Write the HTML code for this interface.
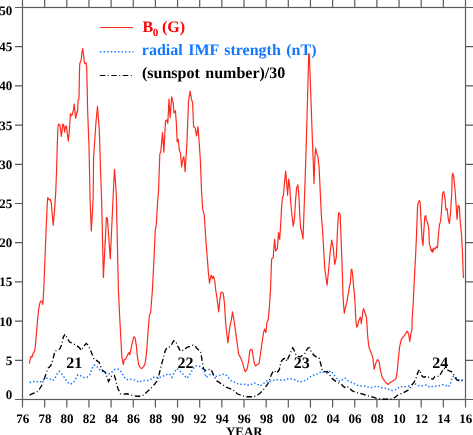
<!DOCTYPE html>
<html><head><meta charset="utf-8"><style>
html,body{margin:0;padding:0;background:#fff;width:473px;height:435px;overflow:hidden}
svg{display:block}
text{font-family:"Liberation Serif","Times New Roman",serif;font-weight:bold;text-rendering:geometricPrecision}
</style></head><body>
<svg width="473" height="435" viewBox="0 0 473 435">
<g stroke="#5a5a5a" stroke-width="1.2">
<rect x="22.5" y="7.5" width="443.0" height="392.0" fill="none"/>
<path d="M22.5 399.5V407.4M22.5 7.5V0M44.65 399.5V407.4M44.65 7.5V0M66.8 399.5V407.4M66.8 7.5V0M88.95 399.5V407.4M88.95 7.5V0M111.1 399.5V407.4M111.1 7.5V0M133.25 399.5V407.4M133.25 7.5V0M155.4 399.5V407.4M155.4 7.5V0M177.55 399.5V407.4M177.55 7.5V0M199.7 399.5V407.4M199.7 7.5V0M221.85 399.5V407.4M221.85 7.5V0M244.0 399.5V407.4M244.0 7.5V0M266.15 399.5V407.4M266.15 7.5V0M288.3 399.5V407.4M288.3 7.5V0M310.45 399.5V407.4M310.45 7.5V0M332.6 399.5V407.4M332.6 7.5V0M354.75 399.5V407.4M354.75 7.5V0M376.9 399.5V407.4M376.9 7.5V0M399.05 399.5V407.4M399.05 7.5V0M421.2 399.5V407.4M421.2 7.5V0M443.35 399.5V407.4M443.35 7.5V0M465.5 399.5V407.4M465.5 7.5V0M22.5 399.5H15M465.5 399.5H473M22.5 360.3H15M465.5 360.3H473M22.5 321.1H15M465.5 321.1H473M22.5 281.9H15M465.5 281.9H473M22.5 242.7H15M465.5 242.7H473M22.5 203.5H15M465.5 203.5H473M22.5 164.3H15M465.5 164.3H473M22.5 125.1H15M465.5 125.1H473M22.5 85.9H15M465.5 85.9H473M22.5 46.7H15M465.5 46.7H473M22.5 7.5H15M465.5 7.5H473" fill="none"/>
</g>
<g font-size="13" fill="#000">
<text x="22.80" y="422.9" text-anchor="middle">76</text>
<text x="44.95" y="422.9" text-anchor="middle">78</text>
<text x="67.10" y="422.9" text-anchor="middle">80</text>
<text x="89.25" y="422.9" text-anchor="middle">82</text>
<text x="111.40" y="422.9" text-anchor="middle">84</text>
<text x="133.55" y="422.9" text-anchor="middle">86</text>
<text x="155.70" y="422.9" text-anchor="middle">88</text>
<text x="177.85" y="422.9" text-anchor="middle">90</text>
<text x="200.00" y="422.9" text-anchor="middle">92</text>
<text x="222.15" y="422.9" text-anchor="middle">94</text>
<text x="244.30" y="422.9" text-anchor="middle">96</text>
<text x="266.45" y="422.9" text-anchor="middle">98</text>
<text x="288.60" y="422.9" text-anchor="middle">00</text>
<text x="310.75" y="422.9" text-anchor="middle">02</text>
<text x="332.90" y="422.9" text-anchor="middle">04</text>
<text x="355.05" y="422.9" text-anchor="middle">06</text>
<text x="377.20" y="422.9" text-anchor="middle">08</text>
<text x="399.35" y="422.9" text-anchor="middle">10</text>
<text x="421.50" y="422.9" text-anchor="middle">12</text>
<text x="443.65" y="422.9" text-anchor="middle">14</text>
<text x="465.80" y="422.9" text-anchor="middle">16</text>
<text x="12.2" y="399.30" text-anchor="end">0</text>
<text x="12.2" y="364.70" text-anchor="end">5</text>
<text x="12.2" y="325.50" text-anchor="end">10</text>
<text x="12.2" y="286.30" text-anchor="end">15</text>
<text x="12.2" y="247.10" text-anchor="end">20</text>
<text x="12.2" y="207.90" text-anchor="end">25</text>
<text x="12.2" y="168.70" text-anchor="end">30</text>
<text x="12.2" y="129.50" text-anchor="end">35</text>
<text x="12.2" y="90.30" text-anchor="end">40</text>
<text x="12.2" y="51.10" text-anchor="end">45</text>
<text x="12.2" y="15.10" text-anchor="end">50</text>
<text x="244.3" y="435.8" text-anchor="middle">YEAR</text>
</g>
<polyline points="29.6,382.4 33.0,381.6 36.4,381.6 39.8,382.4 42.3,380.7 44.8,379.0 47.4,378.2 49.9,379.0 52.4,380.7 55.0,378.2 57.5,373.1 59.2,371.4 61.7,374.0 64.3,377.4 66.8,381.6 70.2,384.1 72.7,383.3 75.3,379.9 77.8,374.8 80.4,375.7 83.7,377.4 87.1,377.4 89.7,374.8 92.2,368.1 93.9,365.2 96.4,365.5 98.1,368.1 100.6,370.6 102.5,371.3 105.1,373.0 107.6,373.8 110.1,373.8 112.7,371.3 115.2,369.1 117.8,369.1 120.3,370.4 122.0,373.0 123.7,376.4 125.4,378.9 127.9,379.7 130.4,379.2 133.8,379.7 136.4,380.6 138.9,382.3 142.3,380.6 145.7,380.6 149.0,380.6 152.4,378.1 155.0,376.4 158.4,378.1 161.7,376.4 165.1,375.5 167.7,373.8 170.2,374.7 171.8,377.4 174.4,372.3 176.9,368.6 179.5,370.6 182.0,373.1 184.5,375.7 187.1,378.2 189.6,374.8 192.1,370.6 194.7,366.4 197.2,365.5 199.7,366.4 202.3,368.6 204.3,371.4 206.0,377.4 208.2,375.7 210.7,374.0 213.3,374.8 215.8,376.5 218.4,375.7 221.7,374.8 224.3,374.0 226.8,375.7 229.3,379.0 231.9,381.6 235.3,382.4 237.8,383.8 241.4,384.3 245.7,384.3 249.0,385.3 251.6,384.3 255.0,383.1 257.5,384.3 260.0,386.0 262.6,384.3 265.1,382.3 267.7,380.6 270.2,381.4 272.7,380.6 276.1,379.7 280.1,379.9 283.5,380.4 286.9,379.0 290.3,378.7 293.7,379.4 297.1,380.7 299.6,382.4 303.0,381.1 306.4,379.9 309.7,377.4 312.3,375.3 315.7,374.8 319.0,373.1 321.6,371.4 324.1,372.3 327.5,373.1 330.5,370.8 333.4,373.8 335.1,376.4 337.6,379.7 340.1,381.4 342.7,379.7 345.2,378.1 347.8,380.6 350.3,381.9 353.7,383.1 356.2,384.8 359.6,386.0 363.0,385.7 366.4,386.5 369.7,387.7 373.1,387.4 376.5,386.0 379.9,387.0 383.3,388.2 386.7,388.2 390.0,389.9 392.6,390.7 395.1,389.9 397.7,388.2 400.2,386.5 403.6,387.0 407.0,386.5 409.8,385.7 412.8,384.1 415.5,384.1 418.3,385.5 421.0,386.2 423.8,385.5 426.6,384.8 429.3,386.9 432.1,386.6 434.8,386.2 437.6,386.2 440.3,385.5 443.1,384.8 445.9,385.5 448.6,386.9 450.3,384.1 451.4,380.0 452.8,376.6 454.8,376.1 456.9,378.6 459.0,380.0 461.3,380.3 463.1,379.7" fill="none" stroke="#0f74ff" stroke-width="1.5" stroke-dasharray="1.4 2.2" stroke-linecap="butt"/>
<polyline points="29.6,395.1 33.0,393.4 36.4,392.6 38.9,390.0 41.5,385.8 43.1,381.6 44.8,377.4 46.5,372.3 48.2,368.1 50.8,365.5 52.4,361.3 54.1,354.5 55.0,351.1 57.5,350.3 60.1,348.6 61.7,344.4 63.4,336.8 65.1,334.2 66.8,337.6 69.4,341.8 72.7,343.5 76.1,345.2 79.5,347.8 81.2,350.3 83.7,346.1 86.3,343.5 88.0,345.2 90.5,350.3 92.2,354.5 93.9,358.8 96.4,360.4 99.0,362.1 100.6,366.4 102.5,370.4 105.1,372.1 106.8,376.4 108.5,381.4 110.1,378.9 111.8,375.5 114.4,375.5 116.1,381.4 117.8,388.2 120.3,393.8 123.7,394.1 127.1,393.8 130.4,395.0 133.8,395.8 137.2,396.2 140.6,396.2 144.0,395.0 146.5,392.4 149.0,389.9 151.6,387.4 154.1,384.8 156.7,381.4 158.4,377.2 160.0,370.6 161.7,363.8 163.4,357.9 165.1,351.1 166.8,347.8 169.3,346.9 171.8,344.4 173.5,341.0 175.6,341.0 177.8,346.1 180.3,351.1 182.8,350.3 185.4,348.6 187.9,346.9 190.4,346.6 193.0,345.2 194.7,345.2 196.4,347.8 198.9,350.3 200.6,352.0 201.4,356.2 202.3,362.1 203.6,368.9 205.3,370.6 208.2,369.7 210.7,369.2 212.4,372.3 214.1,376.5 216.7,380.7 219.2,382.4 221.7,384.1 224.3,385.8 226.8,387.5 229.3,388.4 231.9,389.2 234.4,390.9 237.2,393.8 241.4,395.5 245.7,396.7 249.9,396.7 254.1,396.7 257.5,395.0 260.0,393.3 262.6,390.7 265.1,387.4 267.7,384.0 269.3,380.6 271.0,375.5 272.7,372.1 274.2,370.6 276.8,373.1 279.3,369.7 281.0,362.1 282.7,359.6 285.2,357.9 286.9,361.3 288.6,357.1 290.3,353.7 291.6,349.5 292.8,347.8 294.5,351.1 296.2,355.4 300.0,357.0 304.7,353.7 306.4,350.3 308.1,347.8 309.7,347.8 311.4,352.0 314.0,355.4 316.5,357.1 319.0,357.9 320.7,363.8 322.4,370.6 325.0,371.9 327.5,371.4 330.0,375.5 332.5,378.9 335.9,381.4 339.3,383.1 341.8,384.8 344.4,387.4 346.9,386.0 349.5,388.2 352.0,390.7 355.4,392.1 358.8,393.3 362.1,393.8 365.5,395.0 368.9,396.2 373.1,397.2 376.5,398.4 380.7,398.9 385.0,399.2 389.2,399.2 392.6,398.9 395.1,397.2 397.7,395.0 400.2,393.8 402.7,393.3 405.3,391.6 407.8,390.4 410.0,388.0 412.1,384.8 414.1,382.1 416.2,377.9 417.6,373.1 419.4,369.7 420.8,373.1 422.4,376.6 424.5,377.2 426.6,376.1 428.6,377.2 430.7,378.6 432.8,379.3 434.8,376.6 436.9,375.9 439.0,376.6 440.3,374.5 442.0,371.7 443.8,368.3 445.2,369.0 447.2,369.7 449.3,371.0 451.4,371.7 453.0,373.1 454.8,377.2 456.9,380.0 459.0,380.7 461.0,380.0 463.1,382.1" fill="none" stroke="#000" stroke-width="1.35" stroke-dasharray="5.5 2.5 1 2.5"/>
<polyline points="29.4,363.6 30.3,359.0 31.2,356.2 32.1,357.1 33.0,353.4 34.0,352.5 34.9,349.8 35.8,341.5 36.7,330.5 37.6,319.4 38.6,310.2 39.5,304.7 40.4,301.4 41.3,301.0 42.2,301.4 42.6,304.3 43.1,301.0 43.7,290.0 44.1,280.5 45.3,250.6 46.4,223.0 47.1,206.9 47.7,197.7 49.3,200.0 50.3,199.3 51.2,202.5 53.2,225.1 54.5,210.6 55.7,192.9 56.6,170.0 57.3,145.0 57.9,128.0 58.6,124.0 60.0,125.3 61.4,136.4 62.8,124.0 63.7,124.7 64.6,132.2 65.5,126.7 66.5,126.0 67.3,133.6 68.3,141.2 69.2,132.2 70.1,118.4 70.6,113.6 71.4,115.7 72.4,114.3 73.4,110.2 74.2,104.0 74.8,110.2 75.6,118.4 76.3,115.7 77.0,111.6 77.5,112.0 78.2,99.6 79.0,98.8 79.4,74.9 79.7,64.4 80.5,61.4 81.2,60.0 82.0,52.5 82.7,48.7 83.5,54.0 84.2,61.4 84.9,63.7 86.1,62.9 86.7,67.4 87.2,89.8 87.6,110.0 89.0,146.0 90.1,200.0 91.3,231.0 93.1,200.0 93.6,157.5 95.9,123.0 97.5,106.4 99.3,129.9 100.5,169.0 101.6,200.0 103.4,277.4 106.4,217.6 107.4,218.0 110.3,259.0 113.2,195.0 114.5,169.3 115.4,180.5 116.3,195.0 118.4,290.0 119.5,313.0 120.7,336.0 121.8,356.7 123.3,364.6 124.1,359.8 125.7,359.0 126.5,357.3 128.1,354.1 129.0,352.5 129.8,354.9 130.6,350.9 132.2,342.9 133.8,336.8 135.1,338.0 136.2,344.5 137.3,355.7 138.6,364.6 140.2,367.8 142.1,368.3 143.7,366.7 145.3,362.2 146.6,352.5 147.4,341.3 148.2,330.0 149.4,315.3 150.6,313.0 151.7,299.2 152.4,290.0 154.0,259.0 155.2,231.4 156.3,224.5 157.5,203.8 158.6,190.0 159.8,154.4 160.9,150.9 162.5,132.5 163.9,152.1 165.5,121.0 166.7,119.9 167.8,123.3 169.0,99.2 170.1,117.6 171.7,96.9 173.1,102.6 174.0,113.0 175.4,110.7 176.3,122.2 177.2,141.7 178.2,139.4 179.3,149.8 180.5,153.2 181.6,167.0 182.8,159.0 183.9,156.7 185.1,171.6 186.2,154.4 186.9,144.0 187.8,119.9 188.5,101.5 190.1,91.1 191.5,99.2 192.6,102.6 193.6,126.8 195.2,128.0 196.5,136.0 198.0,126.8 199.2,142.9 200.3,159.0 201.5,190.0 202.6,208.4 204.3,215.3 205.6,236.0 207.2,256.7 208.4,272.8 209.5,283.1 211.1,275.1 212.5,278.5 213.4,276.2 214.8,280.8 215.7,290.0 217.1,299.2 218.7,311.8 219.9,299.2 221.0,292.3 222.2,292.3 223.3,293.4 224.5,303.8 225.6,322.2 226.8,333.7 227.9,342.9 229.1,332.5 230.2,324.5 231.4,319.9 232.5,311.8 233.7,318.7 234.8,325.6 236.0,334.8 237.1,342.9 238.7,354.4 240.6,357.8 242.4,362.4 244.0,368.2 245.2,371.6 247.0,369.3 248.6,361.3 249.8,350.9 250.9,349.3 252.1,349.8 253.2,356.7 254.4,363.6 255.5,365.9 257.1,364.7 259.0,363.6 260.1,356.7 261.7,345.2 263.6,332.5 264.7,329.1 265.9,332.5 267.0,322.2 268.2,319.9 269.3,308.4 270.5,290.0 271.6,259.0 273.2,257.8 274.6,239.4 275.7,250.9 277.4,248.6 278.5,232.5 279.7,239.4 280.8,222.2 281.5,208.4 282.4,198.0 283.4,195.2 284.6,181.4 285.7,171.0 286.9,186.0 287.6,195.2 288.7,179.1 289.7,186.0 290.8,203.2 292.0,215.9 293.3,226.2 294.5,218.2 295.6,199.8 296.6,188.3 297.9,184.8 298.9,195.2 299.8,215.9 300.7,228.5 301.8,232.0 303.0,238.9 304.1,209.0 305.3,174.5 306.4,140.0 308.7,54.9 309.0,53.4 309.4,56.1 312.4,140.0 313.3,163.0 314.0,183.7 314.9,158.4 315.6,148.0 316.8,153.8 317.9,156.1 319.1,167.6 320.2,190.6 321.4,215.9 322.5,229.0 324.8,269.0 327.1,285.1 328.7,269.0 330.1,252.9 331.7,240.2 333.3,248.3 334.7,264.4 336.3,257.5 337.5,229.9 338.6,212.6 340.2,214.9 340.9,234.5 341.7,255.0 342.5,277.4 343.2,299.8 344.3,313.3 345.5,307.3 346.7,302.8 347.7,296.9 348.8,290.9 349.7,284.9 350.3,284.1 351.2,270.0 351.8,269.2 352.6,274.4 353.7,287.9 354.6,295.0 355.2,306.5 355.7,318.0 356.7,327.2 357.5,326.0 358.6,321.4 359.8,318.0 360.6,317.4 361.3,323.7 362.1,318.0 362.9,311.1 363.6,308.6 364.4,311.1 365.5,314.5 366.3,316.8 367.0,324.9 367.6,335.2 368.2,341.0 369.1,347.8 370.9,352.4 372.8,357.5 374.2,369.1 375.9,362.8 377.6,359.6 379.1,361.7 380.6,371.2 382.3,377.6 384.4,380.7 386.5,383.3 388.2,384.5 389.7,382.9 391.8,381.8 393.9,380.3 396.0,378.6 397.1,372.3 398.1,361.7 399.6,346.9 401.3,339.5 403.0,337.4 404.5,335.3 406.0,333.2 407.2,331.1 408.7,334.2 409.8,341.6 410.8,334.2 411.9,330.0 412.3,316.8 413.2,303.0 413.9,289.2 414.3,280.0 415.6,255.9 416.6,232.9 417.5,207.6 418.4,201.8 419.5,200.7 420.2,203.0 421.1,221.4 422.1,239.8 423.0,245.5 423.7,232.9 424.8,216.8 425.7,215.6 426.4,220.2 427.6,222.5 428.7,228.3 429.4,244.4 430.3,246.7 431.3,251.3 432.2,249.0 432.9,252.4 434.0,247.8 435.2,249.0 436.3,246.7 437.5,247.8 438.6,232.9 439.5,224.8 440.5,221.4 441.4,212.2 442.5,193.8 443.7,191.5 444.8,197.2 446.0,209.9 447.1,208.7 448.3,219.1 449.4,223.7 450.6,212.2 451.7,193.8 452.2,177.0 452.8,173.1 453.8,177.2 455.2,191.5 456.3,207.6 457.0,219.1 458.2,205.3 459.3,206.4 460.2,221.4 461.6,235.2 462.5,253.6 463.2,272.0 463.4,277.9" fill="none" stroke="#ff2a1e" stroke-width="1.2" stroke-linejoin="round"/>
<g font-size="16">
<line x1="100" y1="27.5" x2="133" y2="27.5" stroke="#ff2a1e" stroke-width="1.1"/>
<text x="142.6" y="31.7" fill="#ff0000">B<tspan font-size="11" dx="-0.4" dy="4.1">0</tspan><tspan dx="-0.4" dy="-4.1"> (G)</tspan></text>
<line x1="100" y1="51.8" x2="133.5" y2="51.8" stroke="#0f74ff" stroke-width="1.5" stroke-dasharray="1.4 2.2"/>
<text x="141.8" y="54.8" fill="#1478ff" word-spacing="1.5">radial IMF strength (nT)</text>
<line x1="99.8" y1="75.5" x2="132" y2="75.5" stroke="#000" stroke-width="1.2" stroke-dasharray="5.5 2.5 1 2.5"/>
<text x="142.0" y="77.8" fill="#000" word-spacing="1.5">(sunspot number)/30</text>
<text x="74.35" y="368.3" text-anchor="middle">21</text>
<text x="185.6" y="368.3" text-anchor="middle">22</text>
<text x="301.65" y="368.3" text-anchor="middle">23</text>
<text x="440.35" y="368.3" text-anchor="middle">24</text>
</g>
</svg>
</body></html>
